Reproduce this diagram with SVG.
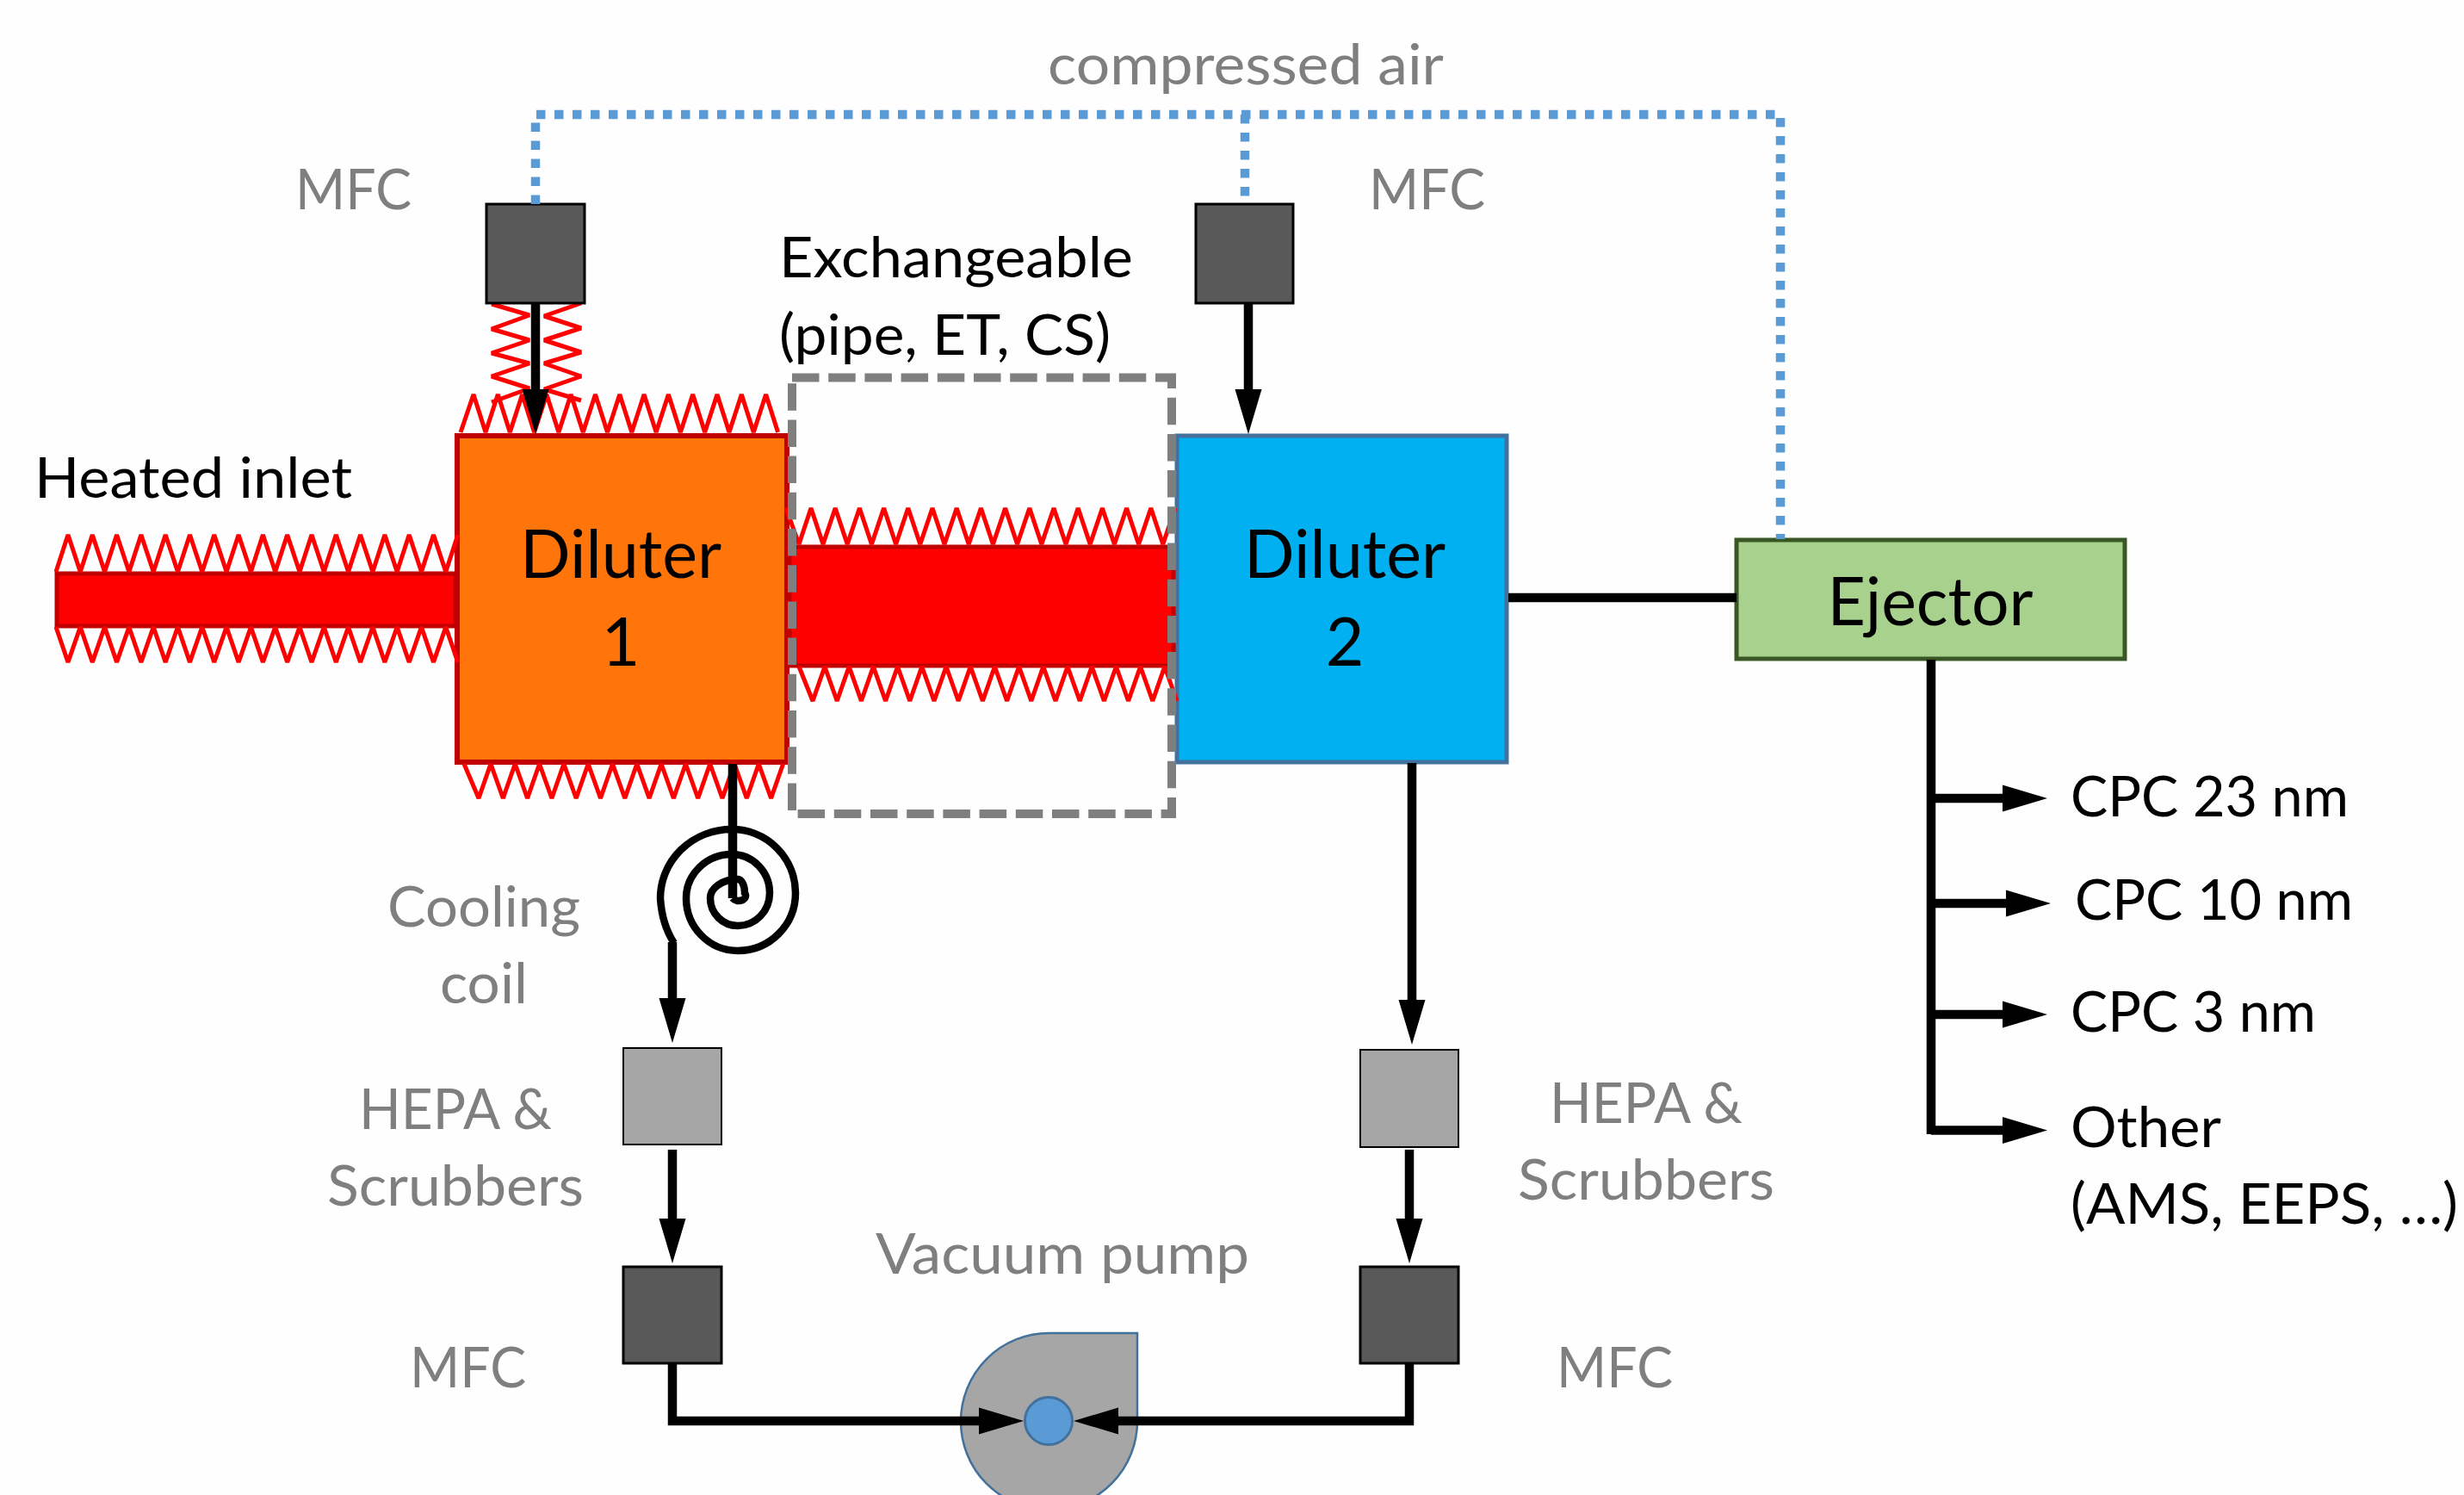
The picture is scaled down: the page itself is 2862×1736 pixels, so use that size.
<svg xmlns="http://www.w3.org/2000/svg" width="2862" height="1736" viewBox="0 0 2862 1736">
<style>
text{font-family:"Lato","Carlito","Liberation Sans",sans-serif;font-size:65px;fill:#000}
.g{fill:#7f7f7f}
.m{text-anchor:middle}
.big{font-size:77px}
.zig{fill:none;stroke:#ff0000;stroke-width:5;stroke-linejoin:bevel}
.mfc{fill:#595959;stroke:#000;stroke-width:3}
.hepa{fill:#a6a6a6;stroke:#000;stroke-width:2}
.flow{fill:none;stroke:#000;stroke-width:10.5}
.arr{marker-end:url(#head)}
.air{fill:none;stroke:#5b9bd5;stroke-width:10.5;stroke-dasharray:10.5 10.5}
</style>
<defs>
<marker id="head" markerUnits="userSpaceOnUse" markerWidth="53" markerHeight="32" refX="0" refY="16" orient="auto"><path d="M0 0.5L52 16L0 31.5Z" fill="#000"/></marker>
</defs>
<rect width="2862" height="1736" fill="#fefefe"/>

<g id="diluter1">
<rect x="531" y="506" width="383" height="379" fill="#ff7509" stroke="#c00000" stroke-width="6"/>
<text class="big m" x="721" y="671" textLength="234" lengthAdjust="spacingAndGlyphs">Diluter</text>
<text class="big m" x="721" y="773">1</text>
</g>
<g id="heated-inlet">
<rect x="66" y="666" width="463" height="61" fill="#ff0000" stroke="#c00000" stroke-width="5"/>
<path class="zig" d="M65 664l14-43 14.3 43 14-43 14.3 43 14-43 14.3 43 14-43 14.3 43 14-43 14.3 43 14-43 14.3 43 14-43 14.3 43 14-43 14.3 43 14-43 14.3 43 14-43 14.3 43 14-43 14.3 43 14-43 14.3 43 14-43 14.3 43 14-43 14.3 43 14-43 14.3 43 14-43 14.3 43 14-43"/>
<path class="zig" d="M65 728l14 41 14.3-41 14 41 14.3-41 14 41 14.3-41 14 41 14.3-41 14 41 14.3-41 14 41 14.3-41 14 41 14.3-41 14 41 14.3-41 14 41 14.3-41 14 41 14.3-41 14 41 14.3-41 14 41 14.3-41 14 41 14.3-41 14 41 14.3-41 14 41 14.3-41 14 41 14.3-41 14 41"/>
<text x="40" y="578" textLength="369" lengthAdjust="spacingAndGlyphs">Heated inlet</text>
</g>
<g id="diluter1-heaters">
<path class="zig" d="M535 502l15-44 14 44 14.3-44 14 44 14.3-44 14 44 14.3-44 14 44 14.3-44 14 44 14.3-44 14 44 14.3-44 14 44 14.3-44 14 44 14.3-44 14 44 14.3-44 14 44 14.3-44 14 44 14.3-44 14 44 14.3-44 14 44"/>
<path class="zig" d="M539 887l17 40 14-40 14.3 40 14-40 14.3 40 14-40 14.3 40 14-40 14.3 40 14-40 14.3 40 14-40 14.3 40 14-40 14.3 40 14-40 14.3 40 14-40 14.3 40 14-40 14.3 40 14-40 14.3 40 14-40 14.3 40 14-40"/>
<polyline class="zig" points="571,353 615,366 571,382 615,395 571,410 615,422 571,437 615,451 571,467"/>
<polyline class="zig" points="675,352 632,367 675,381 632,395 675,409 632,422 675,437 632,452 675,465"/>
</g>
<g id="diluter2">
<rect x="1367" y="506" width="383" height="379" fill="#00b0f0" stroke="#41719c" stroke-width="5"/>
<text class="big m" x="1562" y="671" textLength="234" lengthAdjust="spacingAndGlyphs">Diluter</text>
<text class="big m" x="1562" y="773">2</text>
</g>
<g id="exchangeable">
<rect x="917" y="635" width="446" height="138" fill="#ff0000" stroke="#c00000" stroke-width="5"/>
<path class="zig" d="M913 590l15 42 14-42 14 42 14.2-42 14 42 14.2-42 14 42 14.2-42 14 42 14.2-42 14 42 14.2-42 14 42 14.2-42 14 42 14.2-42 14 42 14.2-42 14 42 14.2-42 14 42 14.2-42 14 42 14.2-42 14 42 14.2-42 14 42 14.2-42 14 42 14.2-42 14 42 14.2-42"/>
<path class="zig" d="M928 774l16 40 14-40 14.2 40 14-40 14.2 40 14-40 14.2 40 14-40 14.2 40 14-40 14.2 40 14-40 14.2 40 14-40 14.2 40 14-40 14.2 40 14-40 14.2 40 14-40 14.2 40 14-40 14.2 40 14-40 14.2 40 14-40 14.2 40 14-40 14.2 40 14-40 14.2 40"/>
<rect x="920" y="438.500" width="441" height="506.500" fill="none" stroke="#7f7f7f" stroke-width="10" stroke-dasharray="31.500 10.700"/>
<text x="905" y="322" textLength="411" lengthAdjust="spacingAndGlyphs">Exchangeable</text>
<text x="905" y="412" textLength="385" lengthAdjust="spacingAndGlyphs">(pipe, ET, CS)</text>
</g>

<g id="mfc-top-left"><rect class="mfc" x="565" y="237" width="114" height="115"/><text class="g" x="343" y="243" textLength="135" lengthAdjust="spacingAndGlyphs">MFC</text></g>
<g id="mfc-top-right"><rect class="mfc" x="1389" y="237" width="113" height="115"/><text class="g" x="1590" y="243" textLength="135" lengthAdjust="spacingAndGlyphs">MFC</text></g>
<g id="ejector"><rect x="2017" y="627" width="451" height="138" fill="#a9d18e" stroke="#385723" stroke-width="5"/><text class="big m" x="2242" y="726" textLength="239" lengthAdjust="spacingAndGlyphs">Ejector</text></g>
<g id="hepa-left"><rect class="hepa" x="724" y="1217" width="114" height="112"/><text class="g m" x="529" y="1311" textLength="224" lengthAdjust="spacingAndGlyphs">HEPA &amp;</text><text class="g m" x="529" y="1400" textLength="298" lengthAdjust="spacingAndGlyphs">Scrubbers</text></g>
<g id="hepa-right"><rect class="hepa" x="1580" y="1219" width="114" height="113"/><text class="g m" x="1912" y="1304" textLength="224" lengthAdjust="spacingAndGlyphs">HEPA &amp;</text><text class="g m" x="1912" y="1393" textLength="298" lengthAdjust="spacingAndGlyphs">Scrubbers</text></g>
<g id="mfc-bottom-left"><rect class="mfc" x="724" y="1471" width="114" height="112"/><text class="g" x="476" y="1611" textLength="135" lengthAdjust="spacingAndGlyphs">MFC</text></g>
<g id="mfc-bottom-right"><rect class="mfc" x="1580" y="1471" width="114" height="112"/><text class="g" x="1808" y="1611" textLength="135" lengthAdjust="spacingAndGlyphs">MFC</text></g>
<g id="vacuum-pump">
<path d="M1321 1548V1650A102.500 102.500 0 1 1 1218.500 1548Z" fill="#a6a6a6" stroke="#41719c" stroke-width="2.500"/>
<circle cx="1218" cy="1650" r="27.500" fill="#5b9bd5" stroke="#41719c" stroke-width="3"/>
<text class="g m" x="1234" y="1479" textLength="434" lengthAdjust="spacingAndGlyphs">Vacuum pump</text>
</g>
<g id="cooling-coil-label"><text class="g m" x="562" y="1076" textLength="224" lengthAdjust="spacingAndGlyphs">Cooling</text><text class="g m" x="562" y="1165" textLength="102" lengthAdjust="spacingAndGlyphs">coil</text></g>
<text class="g m" x="1447" y="98" textLength="460" lengthAdjust="spacingAndGlyphs">compressed air</text>
<g id="outputs">
<text x="2405" y="948" textLength="323" lengthAdjust="spacingAndGlyphs">CPC 23 nm</text>
<text x="2410" y="1068" textLength="323" lengthAdjust="spacingAndGlyphs">CPC 10 nm</text>
<text x="2405" y="1198" textLength="285" lengthAdjust="spacingAndGlyphs">CPC 3 nm</text>
<text x="2405" y="1332" textLength="175" lengthAdjust="spacingAndGlyphs">Other</text>
<text x="2405" y="1421" textLength="450" lengthAdjust="spacingAndGlyphs">(AMS, EEPS, …)</text>
</g>

<g id="connectors">
<path class="air" d="M622 237V133H2068V626"/>
<path class="air" d="M1446 133V237"/>
<path class="flow arr" d="M622 352V452"/>
<path class="flow arr" d="M1450 352V452"/>
<path class="flow" d="M851 887V1043"/>
<path d="M851 1043A8 6 0 0 0 865 1037A8 16 0 0 0 857 1021A32 22 0 0 0 825 1043A32 32 0 0 0 857 1075A37 38 0 0 0 894 1037A44 45 0 0 0 850 992A53 51 0 0 0 797 1043A60 61 0 0 0 857 1104A67 67 0 0 0 924 1037A74 74 0 0 0 850 963A83 80 0 0 0 767 1043Q769 1074 783 1095" fill="none" stroke="#000" stroke-width="8.500"/>
<path class="flow arr" d="M781 1094V1159"/>
<path class="flow arr" d="M781 1335V1415"/>
<path class="flow arr" d="M781 1583V1650H1137"/>
<path class="flow arr" d="M1637 1583V1650H1299"/>
<path class="flow arr" d="M1640 886V1161"/>
<path class="flow arr" d="M1637 1335V1415"/>
<path class="flow" d="M1752 694H2017"/>
<path class="flow" d="M2243 766V1317"/>
<path class="flow arr" d="M2243 927H2326"/>
<path class="flow arr" d="M2243 1049H2330"/>
<path class="flow arr" d="M2243 1178H2326"/>
<path class="flow arr" d="M2243 1312.500H2326"/>
</g>
</svg>
